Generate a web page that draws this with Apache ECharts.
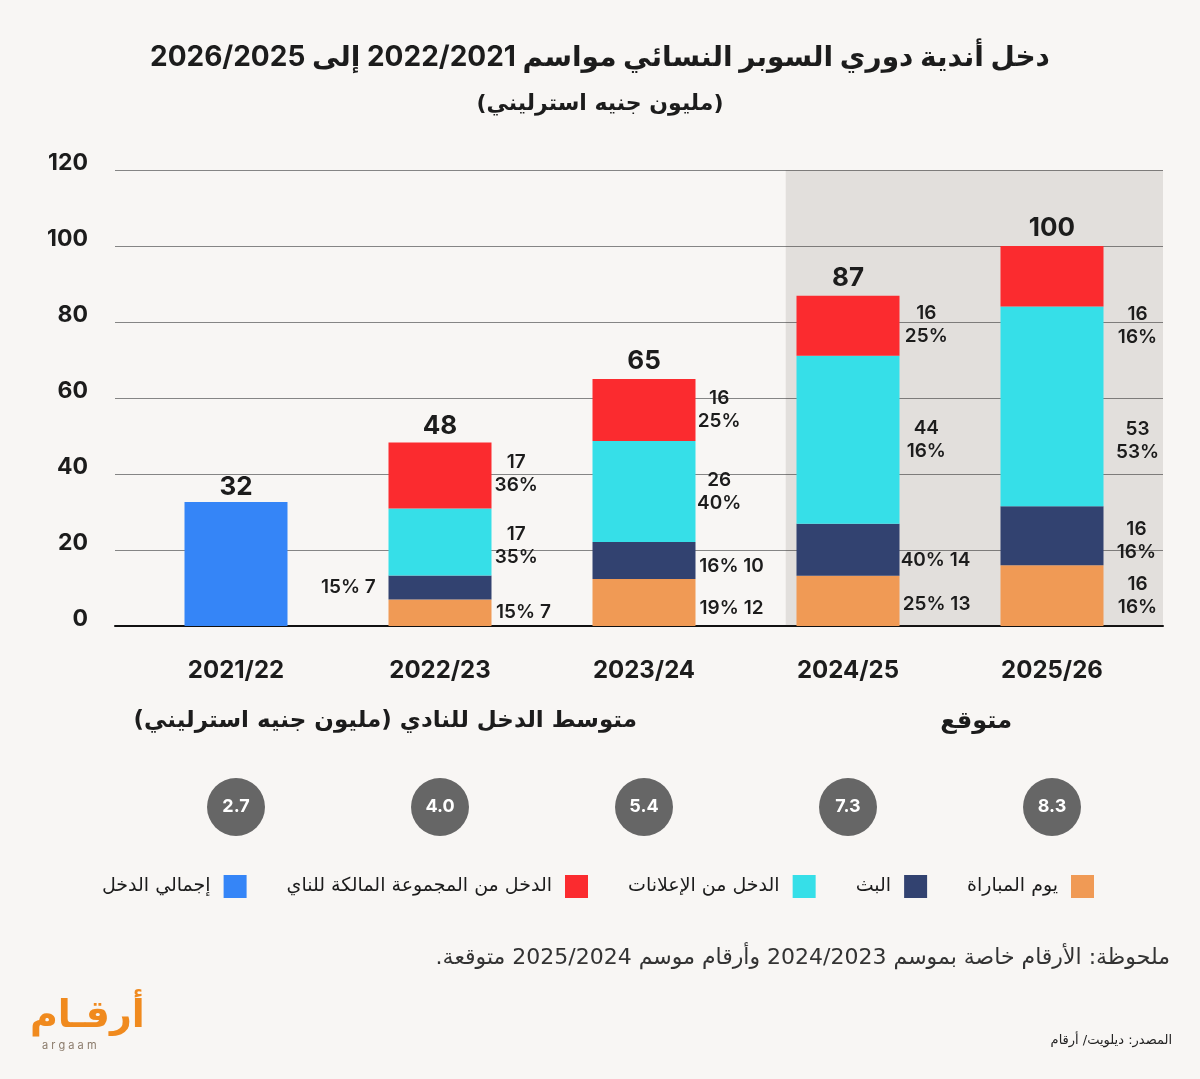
<!DOCTYPE html>
<html>
<head>
<meta charset="utf-8">
<script src="https://cdn.jsdelivr.net/npm/echarts@6/dist/echarts.min.js"></script>
<style>
html,body{margin:0;padding:0;background:#f8f6f4;}
#c{width:1200px;height:1079px;}
</style>
</head>
<body>
<div id="c"></div>
<script>
// ---------- data ----------
const categories = ['2021/22', '2022/23', '2023/24', '2024/25', '2025/26'];
const matchday   = [null, 7.0, 12.4, 13.2, 16.0];
const broadcast  = [null, 6.3, 9.7, 13.7, 15.5];
const commercial = [null, 17.6, 26.6, 44.2, 52.6];
const ownerGroup = [null, 17.4, 16.3, 15.8, 15.9];
const totalIncome = [32.6, null, null, null, null];
const totals = [32, 48, 65, 87, 100];
const avgIncome = [2.7, 4.0, 5.4, 7.3, 8.3];
const matchdayLabels   = ['', '15% 7', '19% 12', '25% 13', '16\n16%'];
const broadcastLabels  = ['', '15% 7', '16% 10', '40% 14', '16\n16%'];
const commercialLabels = ['', '17\n35%', '26\n40%', '44\n16%', '53\n53%'];
const ownerLabels      = ['', '17\n36%', '16\n25%', '16\n25%', '16\n16%'];
const seriesNames = ['يوم المباراة', 'البث', 'الدخل من الإعلانات', 'الدخل من المجموعة المالكة للناي', 'إجمالي الدخل'];
const titleText = 'دخل أندية دوري السوبر النسائي مواسم 2022/2021 إلى 2026/2025';
const subtitleText = '(مليون جنيه استرليني)';
const avgTitleText = 'متوسط الدخل للنادي (مليون جنيه استرليني)';
const forecastText = 'متوقع';
const noteText = 'ملحوظة: الأرقام خاصة بموسم 2024/2023 وأرقام موسم 2025/2024 متوقعة.';
const sourceText = 'المصدر: ديلويت/ أرقام';

// ---------- style ----------
const FONT = "Inter, 'DejaVu Sans', sans-serif";
const AR = "'DejaVu Sans', sans-serif";
const rtl = s => '\u200F' + s + '\u200F';
const colors = ['#f09a55', '#324270', '#36dfe8', '#fb2b2f', '#3585f7'];
const TXT = '#1c1c1c';

const posMatchday   = [null, ['131%','50%'], ['135%','62%'], ['136%','56%'], ['133%','50%']];
const posBroadcast  = [null, ['-39%','50%'], ['135%','65%'], ['135%','71%'], ['132%','58%']];
const posCommercial = [null, ['124%','55%'], ['123%','50%'], ['126%','50%'], ['133%','67%']];
const posOwner      = [null, ['124%','48%'], ['123%','50%'], ['126%','48%'], ['133%','132%']];

function segData(values, labels, pos) {
  return values.map((v, i) => v == null ? '-' : {
    value: v,
    label: {
      show: true, formatter: labels[i], position: pos[i],
      align: 'center', verticalAlign: 'middle',
      color: TXT, fontFamily: FONT, fontWeight: 600, fontSize: 19, lineHeight: 23
    }
  });
}

function barSeries(idx, values, labels, pos) {
  return {
    name: rtl(seriesNames[idx]), type: 'bar', stack: 'inc',
    xAxisIndex: 0, yAxisIndex: 0, barWidth: 103,
    itemStyle: { color: colors[idx] },
    data: segData(values, labels, pos),
    z: 3
  };
}

const chart = echarts.init(document.getElementById('c'), null, { renderer: 'canvas' });
const option = {
  backgroundColor: '#f8f6f4',
  animation: false,
  grid: [
    { left: 134, right: 46, top: 170, bottom: 453 },
    { left: 115, right: 37, top: 170, bottom: 453 },
    { left: 134, right: 46, top: 778, height: 58 }
  ],
  xAxis: [
    { type: 'category', gridIndex: 0, data: categories,
      axisLine: { show: false }, axisTick: { show: false },
      axisLabel: { color: TXT, fontFamily: FONT, fontWeight: 700, fontSize: 24, margin: 33 } },
    { type: 'value', gridIndex: 1, min: 0, max: 1,
      axisLine: { show: true, lineStyle: { color: '#111', width: 2 } },
      axisTick: { show: false }, axisLabel: { show: false }, splitLine: { show: false } },
    { type: 'category', gridIndex: 2, data: categories, show: false }
  ],
  yAxis: [
    { type: 'value', gridIndex: 0, min: 0, max: 120, interval: 20, show: false },
    { type: 'value', gridIndex: 1, min: 0, max: 120, interval: 20,
      axisLine: { show: false }, axisTick: { show: false },
      axisLabel: { color: TXT, fontFamily: FONT, fontWeight: 700, fontSize: 23, margin: 27,
        verticalAlign: 'bottom', lineHeight: 14 },
      splitLine: { lineStyle: { color: '#858585', width: 1 } } },
    { type: 'category', gridIndex: 2, data: ['avg'], show: false }
  ],
  legend: {
    data: [4, 3, 2, 1, 0].map(i => ({ name: rtl(seriesNames[i]), icon: 'rect' })),
    right: 106, top: 875, padding: 0, itemWidth: 23, itemHeight: 23, itemGap: 40,
    align: 'right', selectedMode: false,
    textStyle: { color: TXT, fontFamily: AR, fontSize: 19, padding: [0, 8, 0, 0] }
  },
  series: [
    { type: 'line', xAxisIndex: 1, yAxisIndex: 1, data: [], z: 1, silent: true,
      markArea: { silent: true, itemStyle: { color: 'rgba(70,60,50,0.12)' },
        data: [[{ xAxis: 0.64, yAxis: 0 }, { xAxis: 1, yAxis: 120 }]] } },
    barSeries(0, matchday, matchdayLabels, posMatchday),
    barSeries(1, broadcast, broadcastLabels, posBroadcast),
    barSeries(2, commercial, commercialLabels, posCommercial),
    barSeries(3, ownerGroup, ownerLabels, posOwner),
    { name: rtl(seriesNames[4]), type: 'bar', stack: 'inc', xAxisIndex: 0, yAxisIndex: 0, barWidth: 103,
      itemStyle: { color: colors[4] }, data: totalIncome.map(v => v == null ? '-' : v), z: 3 },
    { type: 'scatter', xAxisIndex: 0, yAxisIndex: 0, symbolSize: 1,
      itemStyle: { color: 'rgba(0,0,0,0)', opacity: 1 },
      data: totals.map((v, i) => [categories[i], v]),
      label: { show: true, position: 'top', distance: 4, formatter: p => String(p.value[1]),
        color: TXT, opacity: 1, fontFamily: FONT, fontWeight: 700, fontSize: 26 }, z: 5 },
    { type: 'scatter', xAxisIndex: 2, yAxisIndex: 2, symbolSize: 58,
      itemStyle: { color: '#666666', opacity: 1 },
      data: avgIncome.map((v, i) => [categories[i], 'avg', v]),
      label: { show: true, position: 'inside', formatter: p => p.value[2].toFixed(1),
        color: '#ffffff', opacity: 1, fontFamily: FONT, fontWeight: 700, fontSize: 18 } }
  ],
  graphic: [
    { type: 'text', left: 'center', top: 44,
      style: { text: rtl(titleText), fill: TXT, font: "bold 28px " + FONT } },
    { type: 'text', left: 'center', top: 93,
      style: { text: rtl(subtitleText), fill: TXT, font: "bold 22px " + AR } },
    { type: 'text', right: 563, top: 710,
      style: { text: rtl(avgTitleText), fill: TXT, font: "bold 23px " + AR } },
    { type: 'text', right: 188, top: 710,
      style: { text: rtl(forecastText), fill: TXT, font: "bold 24px " + AR } },
    { type: 'text', right: 30, top: 947,
      style: { text: rtl(noteText), fill: '#333', font: "22px " + AR } },
    { type: 'text', right: 28, top: 1034,
      style: { text: rtl(sourceText), fill: '#222', font: "13px " + AR } },
    { type: 'text', left: 30, top: 998,
      style: { text: rtl('أرقـام'), fill: '#f08a1e', font: "bold 38px " + AR } },
    { type: 'text', left: 42, top: 1040,
      style: { text: 'a r g a a m', fill: '#8a7a6a', font: "11px " + FONT } }
  ]
};
chart.setOption(option);
</script>
</body>
</html>
